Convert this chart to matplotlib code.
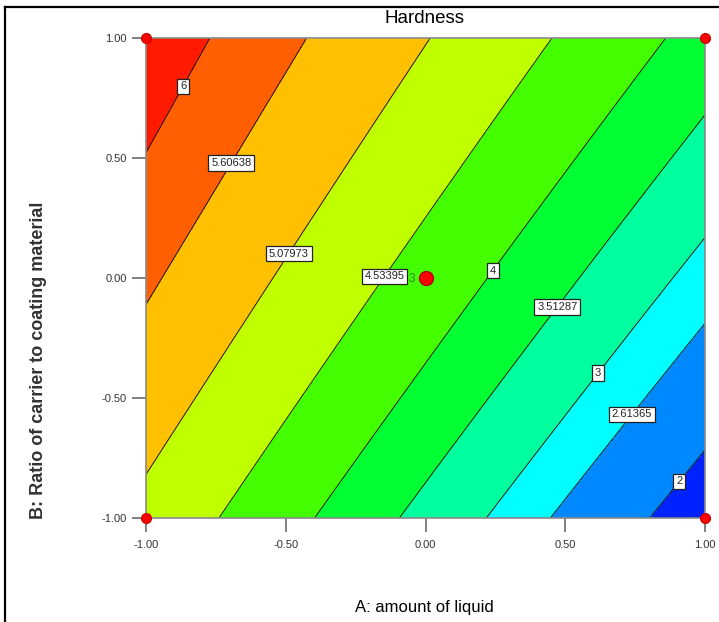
import numpy as np
import matplotlib
matplotlib.use("Agg")
import matplotlib.pyplot as plt
from matplotlib.lines import Line2D

plt.rcParams['font.family'] = ['Liberation Sans', 'DejaVu Sans']

# fitted response surface for Hardness (coded factors A, B)
b0, bA, bB, bAB, bAA, bBB = 4.32, -1.43, 0.87, 0.21, -0.07, -0.09

levels = [2, 2.61365, 3, 3.51287, 4, 4.53395, 5.07973, 5.60638, 6]
band_colors = ['#0022ff', '#0088ff', '#00ffff', '#00ff9f', '#00ff33',
               '#44ff00', '#bfff00', '#ffc000', '#ff5f00', '#ff1a00']
# where each contour label sits (A, B)
label_pos = [(0.90, -0.84), (0.73, -0.56), (0.61, -0.39), (0.46, -0.11),
             (0.23, 0.04), (-0.15, 0.01), (-0.50, 0.11), (-0.71, 0.49),
             (-0.885, 0.81)]
design_A = [-1, 1, -1, 1]
design_B = [-1, -1, 1, 1]
center_A, center_B, center_reps = 0.0, 0.0, 3
ticks = [-1.0, -0.5, 0.0, 0.5, 1.0]

A, B = np.meshgrid(np.linspace(-1, 1, 301), np.linspace(-1, 1, 301))
H = b0 + bA*A + bB*B + bAB*A*B + bAA*A**2 + bBB*B**2

fig = plt.figure(figsize=(7.19, 6.22), dpi=100)
ax = fig.add_axes([0.2031, 0.1672, 0.7775, 0.7717])

fill_levels = [H.min() - 1] + levels + [H.max() + 1]
ax.contourf(A, B, H, levels=fill_levels, colors=band_colors)
cs = ax.contour(A, B, H, levels=levels, colors='#1a1a1a', linewidths=0.7)
labels = ax.clabel(cs, levels, manual=label_pos, inline=False,
                   fmt=lambda v: f"{v:g}", fontsize=8, colors='#222222')
for t in labels:
    t.set_rotation(0)
    t.set_bbox(dict(boxstyle='square,pad=0.25', fc='white', ec='#222222', lw=0.9))

# design points
ax.plot(design_A, design_B, 'o', ms=7, mfc='#ff0000', mec='#cc0000',
        clip_on=False, zorder=5)
ax.plot(center_A, center_B, 'o', ms=10, mfc='#ff0000', mec='#b00000', zorder=5)
ax.text(center_A - 0.048, center_B - 0.006, str(center_reps), color='#2a8a2a',
        fontsize=8.5, ha='center', va='center', zorder=10)

ax.set_xlim(-1, 1)
ax.set_ylim(-1, 1)
ax.set_xticks(ticks)
ax.set_yticks(ticks)
ax.set_xticklabels([f"{t:.2f}" for t in ticks])
ax.set_yticklabels([f"{t:.2f}" for t in ticks])
ax.tick_params(axis='both', direction='out', length=10, width=1.4,
               color='#808080', labelsize=8, labelcolor='#333333')
ax.tick_params(axis='x', pad=6)
ax.tick_params(axis='y', pad=4)
for s in ax.spines.values():
    s.set_color('#8a8a8a')
    s.set_linewidth(1.2)

fig.text(0.59, 0.970, 'Hardness', fontsize=13.5, ha='center', va='center')
fig.text(0.59, 0.024, 'A: amount of liquid', fontsize=12, ha='center', va='center')
fig.text(0.054, 0.421, 'B: Ratio of carrier to coating material', fontsize=13,
         fontweight='bold', rotation=90, ha='center', va='center', color='#333333')

# frame around the figure
fig.add_artist(Line2D([0.007, 0.007], [0.0, 0.989], color='black', lw=1.6))
fig.add_artist(Line2D([0.007, 1.0], [0.989, 0.989], color='black', lw=1.6))

fig.savefig('out.png', dpi=100)
